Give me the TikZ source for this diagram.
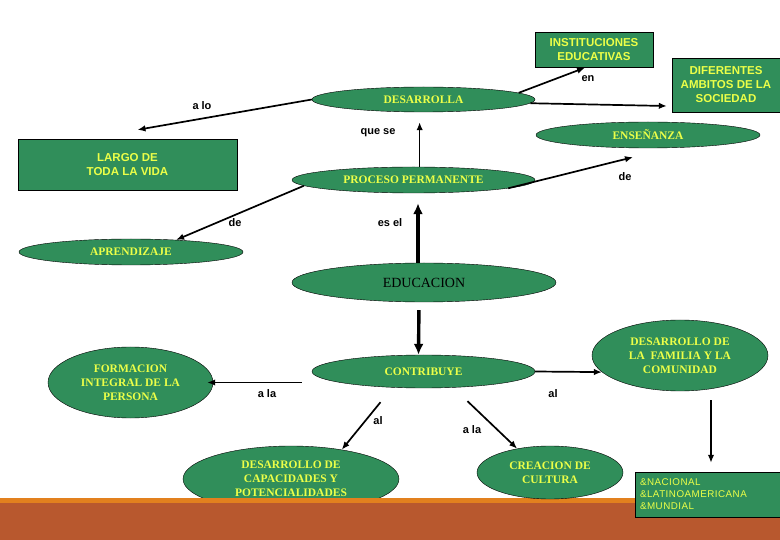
\documentclass[tikz,border=0pt]{standalone}
\usepackage{fontspec}
\setmainfont{Liberation Serif}
\setsansfont{Liberation Sans}
\newfontfamily\spacedsans[LetterSpace=5]{Liberation Sans}
\usepackage{tikz}
\usetikzlibrary{shapes.geometric}
\usetikzlibrary{arrows.meta}

\definecolor{leafgreen}{RGB}{48,142,90}
\definecolor{lemon}{RGB}{236,255,72}
\definecolor{amber}{RGB}{226,128,30}
\definecolor{rust}{RGB}{184,88,46}

\tikzset{
  oval/.style={ellipse, draw=black, fill=leafgreen, text=lemon, inner sep=0pt,
    align=center, font=\rmfamily\bfseries\fontsize{11.5}{14}\selectfont},
  plate/.style={rectangle, draw=black, fill=leafgreen, text=lemon, inner sep=0pt,
    align=center, font=\sffamily\bfseries\fontsize{11.5}{14}\selectfont},
  tag/.style={font=\sffamily\bfseries\fontsize{11}{13}\selectfont},
  link/.style={-{Latex[length=8pt,width=6.5pt]}, line width=1.7pt},
  bigl/.style={-{Latex[length=11pt,width=10pt]}, line width=3.4pt}
}

\begin{document}
\begin{tikzpicture}[x=1pt,y=-1pt]
  \useasboundingbox (0,0) rectangle (780,540);

  % Draw the strip at the bottom
  \fill[rust] (0,503) rectangle (780,540);
  \fill[amber] (0,498) rectangle (780,503);

  % Draw the boxes
  \node[plate, minimum width=118, minimum height=35] (instituciones) at (594,50) {INSTITUCIONES\\EDUCATIVAS};
  \node[plate, minimum width=108, minimum height=54] (diferentes) at (726,85) {DIFERENTES\\AMBITOS DE LA\\SOCIEDAD};
  \node[plate, minimum width=219, minimum height=51] (largo) at (127.5,164.5) {LARGO DE\\TODA LA VIDA};

  % Draw the ovals
  \node[oval, minimum width=223, minimum height=25] (desarrolla) at (423.5,99.5) {DESARROLLA};
  \node[oval, minimum width=224, minimum height=26] (ensenanza) at (648,135) {ENSEÑANZA};
  \node[oval, minimum width=243, minimum height=26] (proceso) at (413.5,180) {PROCESO PERMANENTE};
  \node[oval, minimum width=224, minimum height=26] (aprendizaje) at (131,252) {APRENDIZAJE};
  \node[oval, minimum width=264, minimum height=39, text=black,
    font=\rmfamily\fontsize{14}{16}\selectfont] (educacion) at (424,282.5) {EDUCACION};
  \node[oval, minimum width=223, minimum height=33] (contribuye) at (423.5,371.5) {CONTRIBUYE};
  \node[oval, minimum width=165, minimum height=71] (formacion) at (130.5,382.5) {FORMACION\\INTEGRAL DE LA\\PERSONA};
  \node[oval, minimum width=176, minimum height=71] (familia) at (680,355.5) {DESARROLLO DE\\LA\ \ FAMILIA Y LA\\COMUNIDAD};
  \node[oval, minimum width=146, minimum height=53] (creacion) at (550,472.5) {CREACION DE\\CULTURA};
  \node[oval, minimum width=216, minimum height=66] (capacidades) at (291,479) {DESARROLLO DE\\CAPACIDADES Y\\POTENCIALIDADES};

    % The strip covers the lower oval
  \fill[rust] (180,503) rectangle (402,540);
  \fill[amber] (180,498) rectangle (402,503);

  \node[plate, minimum width=145, minimum height=45, align=left, text width=135,
    font=\spacedsans\fontsize{9.8}{12}\selectfont] (nacional) at (707.5,494.5) {\&NACIONAL\\\&LATINOAMERICANA\\\&MUNDIAL};

  % Draw the linking words
  \node[tag] (alo) at (202,106) {a lo};
  \node[tag] (quese) at (378,133) {que se};
  \node[tag] (en) at (588,79) {en};
  \node[tag] (deup) at (625,177) {de};
  \node[tag] (deleft) at (235,223) {de};
  \node[tag] (esel) at (390,223) {es el};
  \node[tag] (alaleft) at (267,394) {a la};
  \node[tag] (alleft) at (378,421) {al};
  \node[tag] (alaright) at (472,430) {a la};
  \node[tag] (alright) at (553,394) {al};

  % Draw the arrows
  \draw[link] (desarrolla.west) -- ([shift={(10,-9)}]largo.north);
  \draw[link] (desarrolla.4) -- ([xshift=-9pt]instituciones.south);
  \draw[link] (desarrolla.-2) -- ([shift={(-5,21)}]diferentes.west);
  \draw[link, shorten >=10pt] (proceso.65) -- (proceso.65 |- desarrolla.south);
  \draw[link] (proceso.-5) -- ([shift={(-15,9)}]ensenanza.south);
  \draw[link] (proceso.183) -- (aprendizaje.15);
  \draw[bigl, shorten >=10pt] ([xshift=-6pt]educacion.north) -- ([xshift=-6pt]educacion.north |- proceso.south);
  \draw[bigl, shorten <=8pt] ([xshift=-5pt]educacion.south) -- ([xshift=-5pt]contribuye.north);
  \draw[link] ([shift={(-10,11)}]contribuye.west) -- ([xshift=-6pt]formacion.east);
  \draw[link] (contribuye.east) -- (familia.192);
  \draw[link] ([shift={(-43,14)}]contribuye.south) -- (capacidades.30);
  \draw[link] ([shift={(44,13)}]contribuye.south) -- (creacion.144);
  \draw[link] ([shift={(31,9)}]familia.south) -- ([shift={(3.5,-9)}]nacional.north);
\end{tikzpicture}
\end{document}
